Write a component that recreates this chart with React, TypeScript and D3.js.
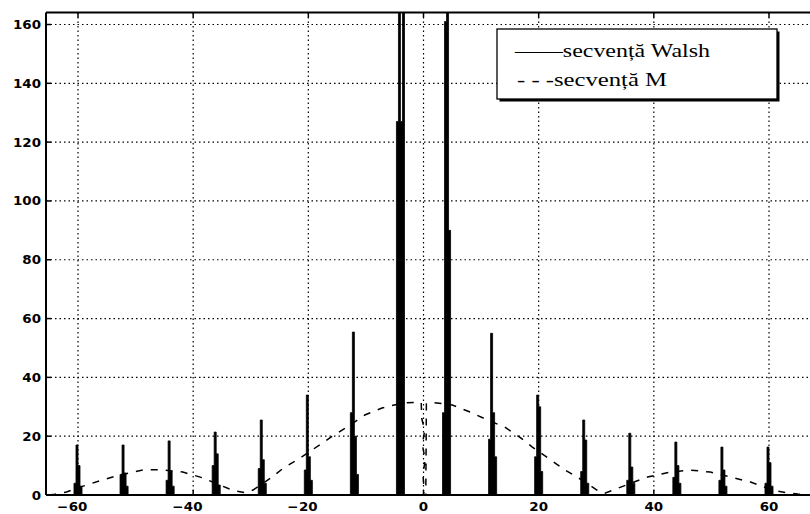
import React from 'react';
import * as d3 from 'd3';

const xTicks = [-60, -40, -20, 0, 20, 40, 60];
const yTicks = [0, 20, 40, 60, 80, 100, 120, 140, 160];

// Walsh spectrum: spike centres and the four stepped sub-sample heights of each spike
const walshCenters = [-60, -52, -44, -36, -28, -20, -12, -4, 4, 12, 20, 28, 36, 44, 52, 60];
const walshA = [4, 7, 5, 10, 9, 8.5, 28, 127, 28, 19, 13, 8, 5, 6, 5, 4];
const walshB = [17, 17, 18.4, 21.4, 25.5, 34, 55.4, 200, 161, 55, 34, 25.5, 21, 18, 16.3, 16.3];
const walshC = [10, 7.5, 8, 14, 12, 13, 20, 127, 200, 28, 30, 18.7, 9.5, 10, 8.5, 11];
const walshD = [3, 3, 3, 3.4, 4, 5, 7, 200, 90, 13, 8, 4, 4, 4, 3, 3];

// M-sequence spectrum (dashed)
const mX = [-65, -64, -62, -60, -58.8, -55.8, -52.7, -48.7, -45.8, -41.8, -38.3, -35, -33, -31, -29.6, -26.5, -24.3, -21.4, -19.2, -16.2, -13.2, -10.2, -7.2, -3.6, -1, -0.4, -0.3, 0.2, -0.2, 0.3, -0.1, 0.1, 0, 0.4, 0.5, 1.5, 5, 8.1, 11.1, 14.1, 16.7, 18.9, 21.6, 24.6, 27.5, 30.1, 31.5, 33.6, 36, 38.9, 42.8, 46.2, 49.8, 53.3, 56.8, 59.6, 61, 63, 65, 67];
const mY = [0, 0.3, 1, 2.5, 3.2, 5.1, 6.8, 8.5, 8.6, 7.8, 5.8, 3.1, 1.5, 0.8, 1.7, 5.8, 9.2, 12.6, 15.5, 19.5, 23.2, 27.2, 29.6, 31.3, 31.5, 31.5, 26, 22, 17, 12, 7, 2, 0, 0, 31, 31.5, 30.6, 28.2, 25.5, 23.1, 19.7, 16.3, 12.6, 8.5, 5.1, 1.7, 0.6, 2.2, 4, 6.1, 7.8, 8.5, 7.8, 6.1, 4.4, 2.4, 1.5, 0.8, 0.3, 0];

const legendItems = ['——secvență Walsh', '- - -secvență M'];

export default function App() {
  const W = 810, H = 514;
  const left = 46, top = 12.5, bottom = 495, right = 830;
  const x = d3.scaleLinear().domain([-60, 60]).range([78, 769]);
  const y = d3.scaleLinear().domain([0, 160]).range([495, 24.5]);

  const step = 0.35;
  const walshPts: [number, number][] = [[x.invert(left), 0]];
  walshCenters.forEach((c, i) => {
    const hs = [walshA[i], walshB[i], walshC[i], walshD[i]];
    walshPts.push([c - 2 * step, 0]);
    hs.forEach((h, j) => walshPts.push([c + (j - 2) * step, h]));
    walshPts.push([c + 2 * step, 0]);
  });
  walshPts.push([x.invert(right), 0]);

  const area = d3.area<[number, number]>()
    .x(d => x(d[0]))
    .y0(y(0))
    .y1(d => y(d[1]))
    .curve(d3.curveStepAfter);

  const mPts: [number, number][] = mX.map((v, i) => [v, mY[i]]);
  const line = d3.line<[number, number]>().x(d => x(d[0])).y(d => y(d[1]));

  const labelFont = '"DejaVu Sans", sans-serif';
  const sx = 1.12;

  return (
    <svg width={W} height={H} style={{ position: 'absolute', left: 0, top: 0, background: '#fff' }}>
      <defs>
        <clipPath id="plot">
          <rect x={left} y={top} width={right - left} height={bottom - top} />
        </clipPath>
      </defs>
      <rect x={0} y={0} width={W} height={H} fill="#fff" />
      {/* grid */}
      <g stroke="#000" strokeWidth={1.2} strokeDasharray="1.5,3">
        {yTicks.filter(t => t > 0).map(t => (
          <line key={'gy' + t} x1={left} x2={right} y1={y(t)} y2={y(t)} />
        ))}
        {xTicks.map(t => (
          <line key={'gx' + t} x1={x(t)} x2={x(t)} y1={top} y2={bottom} />
        ))}
      </g>
      {/* data */}
      <g clipPath="url(#plot)">
        <path d={area(walshPts) || ''} fill="#000" stroke="#000" strokeWidth={0.8} />
        <path d={line(mPts) || ''} fill="none" stroke="#000" strokeWidth={1.5} strokeDasharray="7,8" />
      </g>
      {/* frame */}
      <g stroke="#000" strokeWidth={2} fill="none">
        <line x1={left} x2={right} y1={top} y2={top} />
        <line x1={left} x2={right} y1={bottom} y2={bottom} />
        <line x1={left} x2={left} y1={top} y2={bottom} />
      </g>
      {/* ticks */}
      <g stroke="#000" strokeWidth={1.5}>
        {yTicks.map(t => (
          <line key={'ty' + t} x1={left} x2={left + 5} y1={y(t)} y2={y(t)} />
        ))}
        {xTicks.map(t => (
          <g key={'tx' + t}>
            <line x1={x(t)} x2={x(t)} y1={top} y2={top + 5} />
            <line x1={x(t)} x2={x(t)} y1={bottom} y2={bottom - 5} />
          </g>
        ))}
      </g>
      {/* y labels */}
      {yTicks.map(t => (
        <text key={'ly' + t} transform={`translate(41,${y(t) + 4.5}) scale(${sx},1)`}
          textAnchor="end" fontFamily={labelFont} fontSize={12} fontWeight="bold" fill="#000">{String(t)}</text>
      ))}
      {/* x labels */}
      {xTicks.map(t => {
        const digits = String(Math.abs(t));
        const half = digits.length * 4.2;
        return (
          <g key={'lx' + t} transform={`translate(${x(t)},511) scale(${sx},1)`}>
            <text textAnchor="middle" fontFamily={labelFont} fontSize={12} fontWeight="bold" fill="#000">{digits}</text>
            {t < 0 && (
              <text x={-half - 0.5} textAnchor="end" fontFamily={labelFont} fontSize={12} fontWeight="bold" fill="#000">−</text>
            )}
          </g>
        );
      })}
      {/* legend */}
      <rect x={499.5} y={31.5} width={280} height={70} fill="#000" />
      <rect x={497} y={29} width={280} height={70} fill="#fff" stroke="#000" strokeWidth={1.3} />
      <text x={515} y={57} fontFamily='"Liberation Serif", "Times New Roman", serif' fontSize={19}
        textLength={195} lengthAdjust="spacingAndGlyphs" fill="#000">{legendItems[0]}</text>
      <text x={517} y={86} fontFamily='"Liberation Serif", "Times New Roman", serif' fontSize={19}
        textLength={150} lengthAdjust="spacingAndGlyphs" fill="#000">{legendItems[1]}</text>
    </svg>
  );
}
